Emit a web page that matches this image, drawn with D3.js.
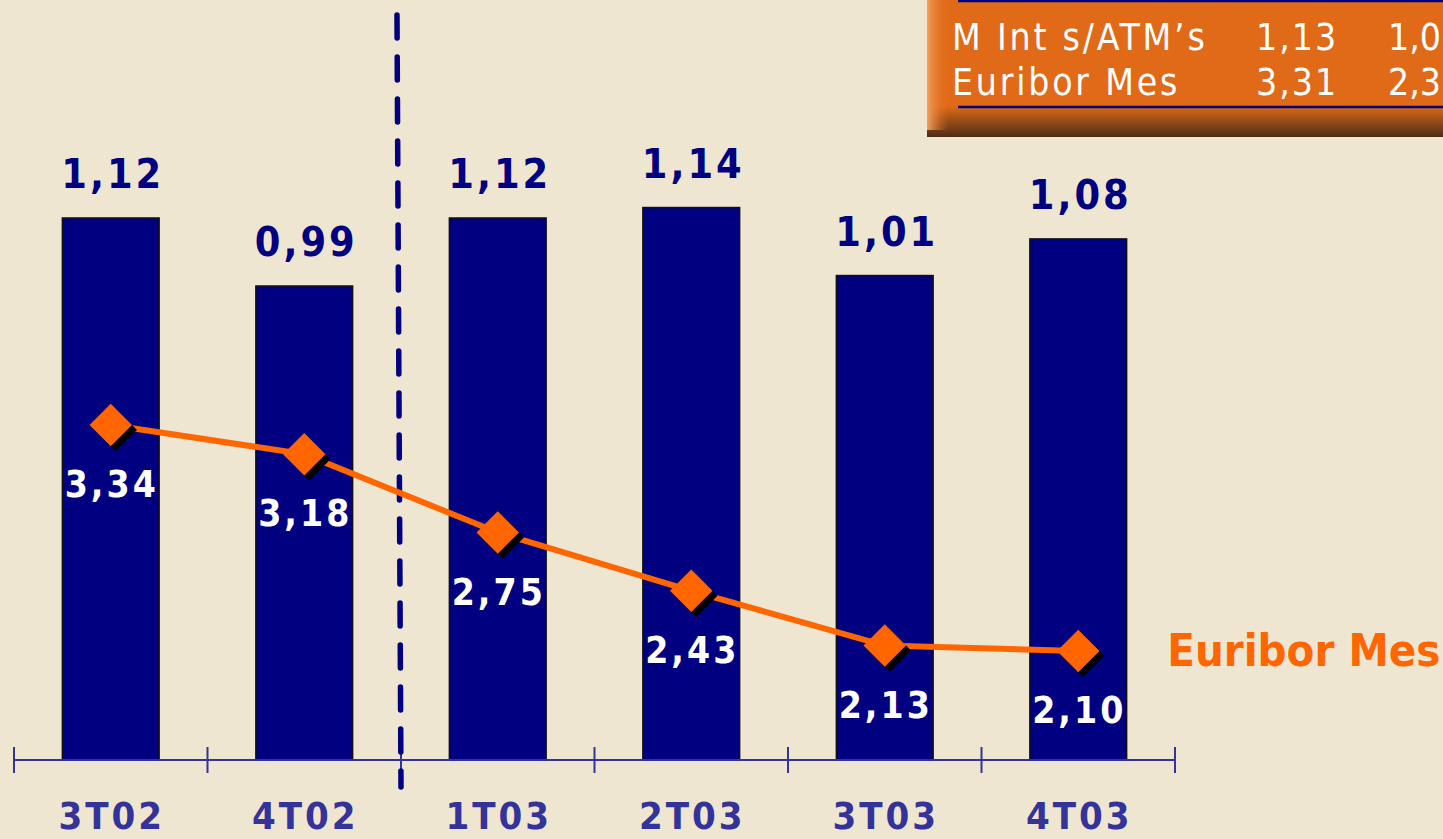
<!DOCTYPE html>
<html>
<head>
<meta charset="utf-8">
<script src="https://cdn.jsdelivr.net/npm/d3@7"></script>
<style>
  body { margin: 0; background: #EFE6D1; overflow: hidden; }
  svg { display: block; }
  text { font-family: "DejaVu Sans Condensed", "DejaVu Sans", sans-serif; font-stretch: condensed; }
</style>
</head>
<body>
<div id="chart"></div>
<script>
// quarters and values
const quarters = ["3T02", "4T02", "1T03", "2T03", "3T03", "4T03"];
const margenInt = [1.12, 0.99, 1.12, 1.14, 1.01, 1.08];
const euribor = [3.34, 3.18, 2.75, 2.43, 2.13, 2.10];

// little table in the top right corner (clipped by the page edge)
const tableRows = ["M Int s/ATM\u2019s", "Euribor Mes"];
const tableCol1 = ["1,13", "3,31"];
const tableCol2 = ["1,0", "2,3"];

const fmt = v => v.toFixed(2).replace(".", ",");

const width = 1443, height = 839;

const svg = d3.select("#chart")
  .append("svg")
  .attr("width", width)
  .attr("height", height);

const defs = svg.append("defs");

const gBottom = defs.append("linearGradient")
  .attr("id", "boxBottom").attr("x1", 0).attr("y1", 0).attr("x2", 0).attr("y2", 1);
gBottom.append("stop").attr("offset", "0%").attr("stop-color", "#E06A17");
gBottom.append("stop").attr("offset", "100%").attr("stop-color", "#4C2D17");

const gLeft = defs.append("linearGradient")
  .attr("id", "boxLeft").attr("x1", 0).attr("y1", 0).attr("x2", 1).attr("y2", 0);
gLeft.append("stop").attr("offset", "0%").attr("stop-color", "#F2A060");
gLeft.append("stop").attr("offset", "100%").attr("stop-color", "#E06A17").attr("stop-opacity", 0);

// scales
const x = d3.scaleBand()
  .domain(quarters)
  .range([14, 1175])
  .paddingInner(0.5)
  .paddingOuter(0.25);

// bar axis doesn't start at zero in the original
const yBar = d3.scaleLinear()
  .domain([0.084, 1.12])
  .range([760, 218]);

const yLine = d3.scaleLinear()
  .domain([2.10, 3.34])
  .range([651, 425]);

const cx = d => x(d) + x.bandwidth() / 2;

// table box
const box = svg.append("g");
box.append("rect")
  .attr("x", 927).attr("y", -10)
  .attr("width", 530).attr("height", 147)
  .attr("rx", 8)
  .attr("fill", "#E06A17");
box.append("rect")
  .attr("x", 927).attr("y", 106)
  .attr("width", 530).attr("height", 31)
  .attr("fill", "url(#boxBottom)");
box.append("rect")
  .attr("x", 927).attr("y", -10)
  .attr("width", 22).attr("height", 140)
  .attr("fill", "url(#boxLeft)");
box.append("line")
  .attr("x1", 958).attr("x2", 1443).attr("y1", 1).attr("y2", 1)
  .attr("stroke", "#000080").attr("stroke-width", 2.5);
box.append("line")
  .attr("x1", 958).attr("x2", 1443).attr("y1", 107).attr("y2", 107)
  .attr("stroke", "#000080").attr("stroke-width", 2.5);

tableRows.forEach((r, i) => {
  const yy = 50 + i * 45;
  box.append("text").attr("x", 952).attr("y", yy).text(r)
    .attr("fill", "#fff").attr("font-size", 37).attr("letter-spacing", 2.8);
  box.append("text").attr("x", 1256).attr("y", yy).text(tableCol1[i])
    .attr("fill", "#fff").attr("font-size", 37).attr("letter-spacing", 2);
  box.append("text").attr("x", 1441).attr("y", yy).text(tableCol2[i])
    .attr("text-anchor", "end")
    .attr("fill", "#fff").attr("font-size", 37);
});

// bars
svg.selectAll(".bar")
  .data(margenInt)
  .enter()
  .append("rect")
  .attr("class", "bar")
  .attr("x", (d, i) => x(quarters[i]))
  .attr("y", d => yBar(d))
  .attr("width", x.bandwidth())
  .attr("height", d => yBar(yBar.domain()[0]) - yBar(d))
  .attr("fill", "#000080")
  .attr("stroke", "#111")
  .attr("stroke-width", 1.5);

svg.selectAll(".barLabel")
  .data(margenInt)
  .enter()
  .append("text")
  .attr("class", "barLabel")
  .attr("x", (d, i) => cx(quarters[i]) + 2)
  .attr("y", d => yBar(d) - 30)
  .attr("text-anchor", "middle")
  .attr("font-size", 41)
  .attr("font-weight", "bold")
  .attr("letter-spacing", 3)
  .attr("fill", "#000080")
  .text(d => fmt(d));

// x axis
const ticks = quarters.map(q => x(q) - x.step() * 0.25).concat([1175]);
const axis = svg.append("g");
axis.append("line")
  .attr("x1", 14).attr("x2", 1175).attr("y1", 760).attr("y2", 760)
  .attr("stroke", "#333399").attr("stroke-width", 2);
axis.selectAll(".tick")
  .data(ticks)
  .enter()
  .append("line")
  .attr("x1", d => d).attr("x2", d => d)
  .attr("y1", 747).attr("y2", 773)
  .attr("stroke", "#333399").attr("stroke-width", 2);
axis.selectAll(".xlab")
  .data(quarters)
  .enter()
  .append("text")
  .attr("x", d => cx(d) + 1)
  .attr("y", 829)
  .attr("text-anchor", "middle")
  .attr("font-size", 38)
  .attr("font-weight", "bold")
  .attr("letter-spacing", 3)
  .attr("fill", "#333399")
  .text(d => d);

// dashed divider between 2002 and 2003
const divX = x("1T03") - x.step() * 0.25;
svg.append("line")
  .attr("x1", divX - 4).attr("x2", divX)
  .attr("y1", 15).attr("y2", 787)
  .attr("stroke", "#000080")
  .attr("stroke-width", 5.5)
  .attr("stroke-linecap", "round")
  .attr("stroke-dasharray", "23,19");

// euribor line
const line = d3.line()
  .x((d, i) => cx(quarters[i]))
  .y(d => yLine(d));

svg.append("path")
  .datum(euribor)
  .attr("d", line)
  .attr("fill", "none")
  .attr("stroke", "#FF6600")
  .attr("stroke-width", 6);

const diamond = d3.symbol().type(d3.symbolDiamond2).size(1150);

svg.selectAll(".shadow")
  .data(euribor)
  .enter()
  .append("path")
  .attr("d", diamond)
  .attr("transform", (d, i) => `translate(${cx(quarters[i]) + 5},${yLine(d) + 5})`)
  .attr("fill", "#000");

svg.selectAll(".mark")
  .data(euribor)
  .enter()
  .append("path")
  .attr("d", diamond)
  .attr("transform", (d, i) => `translate(${cx(quarters[i])},${yLine(d)})`)
  .attr("fill", "#FF6600");

svg.selectAll(".lineLabel")
  .data(euribor)
  .enter()
  .append("text")
  .attr("x", (d, i) => cx(quarters[i]) + 1)
  .attr("y", d => yLine(d) + 72)
  .attr("text-anchor", "middle")
  .attr("font-size", 37)
  .attr("font-weight", "bold")
  .attr("letter-spacing", 3)
  .attr("fill", "#fff")
  .text(d => fmt(d));

svg.append("text")
  .attr("x", cx(quarters[5]) + 89)
  .attr("y", yLine(euribor[5]) + 15)
  .attr("font-size", 45)
  .attr("font-weight", "bold")
  .attr("fill", "#FF6600")
  .text("Euribor Mes");
</script>
</body>
</html>
